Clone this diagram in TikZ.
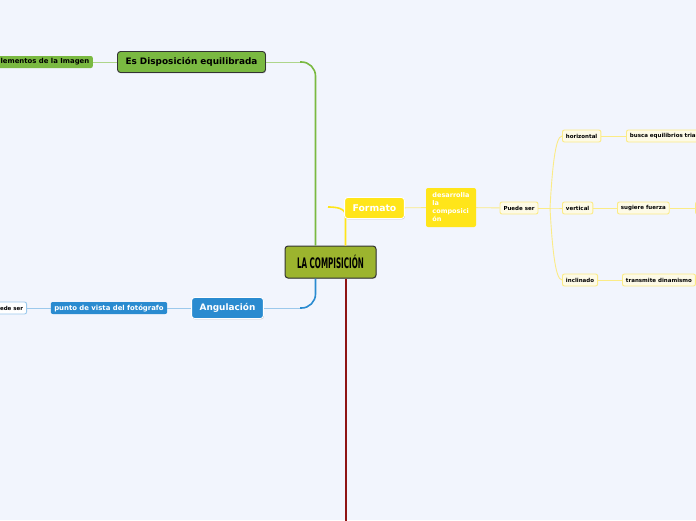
\documentclass[tikz,border=0pt]{standalone}
\usepackage{fontspec}
\setmainfont{DejaVu Sans}
\newfontfamily\rootfont[FakeStretch=0.55]{DejaVu Sans Condensed}
\usetikzlibrary{calc,positioning,shadows}

\definecolor{bgc}{HTML}{F2F5FD}
\definecolor{olive}{HTML}{9CB42E}
\definecolor{grn}{HTML}{7AB941}
\definecolor{grnl}{HTML}{AED58A}
\definecolor{blu}{HTML}{2A8BD0}
\definecolor{blul}{HTML}{9CC9EC}
\definecolor{yel}{HTML}{FFE51A}
\definecolor{yell}{HTML}{FBEB86}
\definecolor{yelb}{HTML}{FDFAE6}
\definecolor{redd}{HTML}{8E1414}
\definecolor{ink}{HTML}{333333}

\begin{document}
\begin{tikzpicture}[x=1pt,y=-1pt,
  shd/.style={drop shadow={shadow xshift=0.6pt,shadow yshift=-0.9pt,opacity=0.35}},
  root/.style={draw=ink,line width=1pt,fill=olive,rounded corners=3pt,minimum width=91pt,
    minimum height=32pt,inner sep=0pt,font=\rootfont\bfseries\fontsize{14.5}{16}\selectfont,shd},
  main/.style={rounded corners=3pt,inner xsep=8pt,inner ysep=0pt,minimum height=21pt,
    font=\bfseries\fontsize{8.9}{10}\selectfont,shd},
  sub/.style={rounded corners=2pt,inner xsep=3.5pt,inner ysep=0pt,minimum height=12pt,
    font=\bfseries\fontsize{6.9}{8}\selectfont},
  leaf/.style={draw=yell,line width=0.9pt,fill=yelb,rounded corners=2pt,inner xsep=3.5pt,
    inner ysep=0pt,minimum height=12pt,font=\bfseries\fontsize{5.5}{6}\selectfont},
  lnG/.style={draw=grnl,line width=0.9pt},
  lnB/.style={draw=blul,line width=0.9pt},
  lnY/.style={draw=yell,line width=0.9pt}]
  \useasboundingbox (0,0) rectangle (696,520);
  \fill[bgc] (0,0) rectangle (696,520);
  \clip (0,0) rectangle (696,520);

  % centre
  \node[root] (root) at (330.5,262) {LA COMPISICIÓN};

  % main branches
  \draw[grn,line width=1.6pt,rounded corners=14pt] (300,62) -| ($(root.north west)+(31,0)$);
  \draw[blu,line width=1.6pt,rounded corners=14pt] (300,308) -| ($(root.south west)+(31,0)$);
  \draw[redd,line width=2pt] ($(root.south west)+(61,0)$) -- ++(0,260);
  \coordinate (fmtin) at (328,207);
  \draw[yel,line width=1.6pt] ($(root.north west)+(61,0)$) -- ++(0,-30) to[out=90,in=0] (fmtin);

  \node[main,draw=ink,line width=0.9pt,fill=grn] (disp) at (191.5,62) {Es Disposición equilibrada};
  \node[main,draw=white,line width=0.9pt,fill=blu,text=white] (ang) at (227.5,308) {Angulación};
  \node[main,draw=white,line width=0.9pt,fill=yel,text=white,font=\bfseries\fontsize{9.3}{10}\selectfont] (fmt) at (374.5,208) {Formato};
  \draw[grnl,line width=0.9pt] (disp.east) -- (300,62);
  \draw[blul,line width=0.9pt] (ang.east) -- (300,308);

  % green side
  \node[sub,fill=grn,anchor=east] (elem) at (93,62) {Elementos de la Imagen};
  \draw[lnG] (elem) -- (disp);

  % blue side
  \node[sub,fill=blu,text=white] (pdv) at (109,308) {punto de vista del fotógrafo};
  \node[sub,draw=blul,line width=0.9pt,fill=white,font=\bfseries\fontsize{5.5}{6}\selectfont,anchor=east] (pds) at (27,308) {Puede ser};
  \draw[lnB] (pdv) -- (ang);
  \draw[lnB] (pds) -- (pdv);

  % yellow side
  \node[sub,fill=yel,text=white,align=left,minimum width=50pt,minimum height=39pt,
    font=\bfseries\fontsize{6.5}{8}\selectfont] (des) at (451,207.5) {desarrolla\\la\\composici\\ón};
  \node[leaf] (pue) at (519,208) {Puede ser};
  \draw[lnY] (fmt) -- (des);
  \draw[lnY] (des) -- (pue);
  \coordinate (fork) at (550,208);
  \draw[lnY] (pue) -- (fork);
  \foreach \n/\y/\a in {hor/136/horizontal,ver/208/vertical,inc/280/inclinado} {
    \node[leaf,anchor=west] (\n) at (562,\y) {\a};
    \draw[lnY] (fork) .. controls (552,{(208+\y)/2}) and (555,\y) .. (\n.west);
  }
  \node[leaf,anchor=west] (busca) at (626,136) {busca equilibrios triangulares};
  \node[leaf,anchor=west] (sug) at (617,208) {sugiere fuerza};
  \node[leaf,anchor=west] (trans) at (622,280) {transmite dinamismo};
  \node[leaf,anchor=west,minimum width=30pt] (more) at (695,208) {};
  \draw[lnY] (hor) -- (busca);
  \draw[lnY] (ver) -- (sug);
  \draw[lnY] (inc) -- (trans);
  \draw[lnY] (sug) -- (more);
\end{tikzpicture}
\end{document}
